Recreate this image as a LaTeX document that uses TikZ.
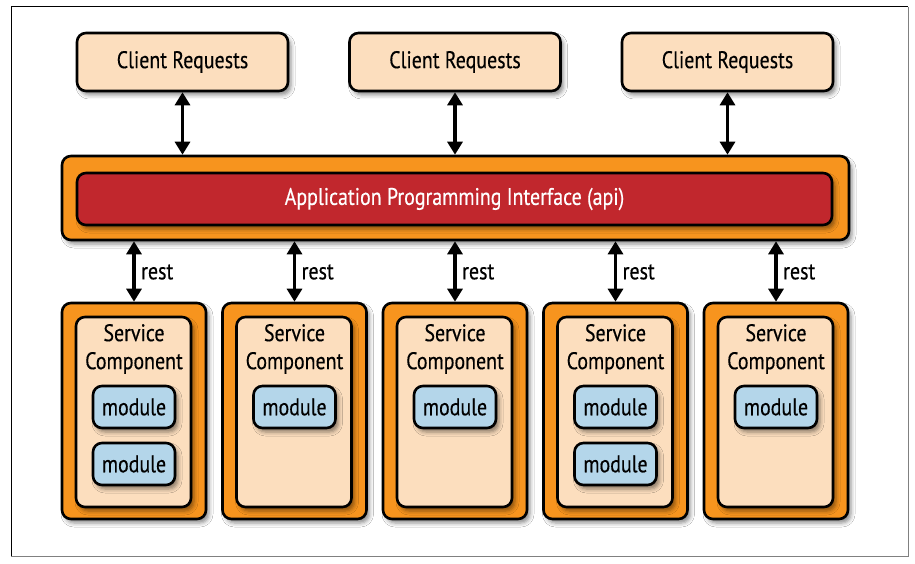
\documentclass[tikz,border=0pt]{standalone}
\usepackage{fontspec}
\setmainfont{PT Sans}[FakeStretch=0.83, FakeBold=0.4]
\usetikzlibrary{shadows.blur,arrows.meta}

\definecolor{peach}{RGB}{252,222,190}
\definecolor{orng}{RGB}{247,148,30}
\definecolor{apired}{RGB}{193,39,45}
\definecolor{modblue}{RGB}{180,214,234}

\tikzset{
  box/.style={draw=black, line width=2.6pt, rounded corners=9pt,
    blur shadow={shadow xshift=3pt, shadow yshift=-4pt,
      shadow blur radius=4pt, shadow opacity=45}},
  lbl/.style={font=\fontsize{24}{28}\selectfont},
  client/.style={box, lbl, fill=peach, minimum width=211pt, minimum height=58pt},
  apiouter/.style={box, fill=orng, minimum width=787pt, minimum height=84pt},
  apiinner/.style={box, lbl, fill=apired, text=white, minimum width=755pt, minimum height=52pt},
  colouter/.style={box, fill=orng, minimum width=144pt, minimum height=216pt},
  colinner/.style={box, fill=peach, minimum width=115pt, minimum height=190pt},
  modbox/.style={box, lbl, fill=modblue, minimum width=82pt, minimum height=42pt,
    inner sep=0pt},
  ttl/.style={lbl, align=center, inner sep=0pt},
  link/.style={line width=3.1pt,
    {Triangle[length=13pt,width=15pt]}-{Triangle[length=13pt,width=15pt]}},
  restlbl/.style={lbl, anchor=west, inner sep=0pt}
}

\begin{document}
\begin{tikzpicture}[x=1pt,y=-1pt]
\useasboundingbox (0,0) rectangle (915,564);
\fill[white] (0,0) rectangle (915,564);

% frame
\draw[black, line width=1pt] (11,556) -- (11,7) -- (908,7);
\draw[gray, line width=1pt] (908,7) -- (908,556) -- (11,556);

% client requests
\node[client] (c1) at (182.5,62) {Client Requests};
\node[client] (c2) at (455,62) {Client Requests};
\node[client] (c3) at (727.5,62) {Client Requests};

% api layer
\node[apiouter] (api) at (455.5,198) {};
\node[apiinner] (apiin) at (454.5,199) {Application Programming Interface (api)};

% client <-> api links
\foreach \i in {1,2,3}
  \draw[link] (c\i.south) -- (c\i.south |- api.north);

% service components
\foreach \i/\x in {1/134,2/294.5,3/455,4/615.5,5/776}{
  \node[colouter] (s\i) at (\x,411) {};
  \node[colinner] (si\i) at (\x-0.5,412) {};
  \node[ttl] (t\i) at (\x,349) {Service\\Component};
  \draw[link] (api.south -| s\i.north) -- (s\i.north);
  \node[restlbl] (r\i) at (\x+7,272) {rest};
}

% modules
\node[modbox] (m1a) at (134,407) {module};
\node[modbox] (m1b) at (134,464) {module};
\node[modbox] (m2a) at (294.5,407) {module};
\node[modbox] (m3a) at (455,407) {module};
\node[modbox] (m4a) at (615.5,407) {module};
\node[modbox] (m4b) at (615.5,464) {module};
\node[modbox] (m5a) at (776,407) {module};
\end{tikzpicture}
\end{document}
